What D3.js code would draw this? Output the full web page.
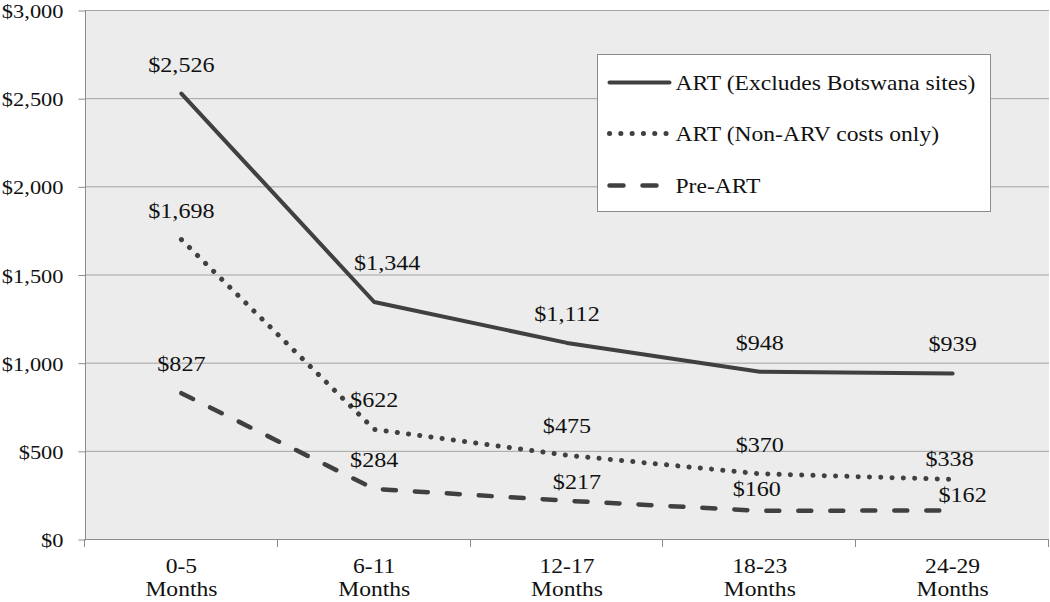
<!DOCTYPE html>
<html lang="en">
  <head>
    <meta charset="utf-8">
    <title>Cost per patient by months on treatment</title>
    <script src="https://cdnjs.cloudflare.com/ajax/libs/d3/7.8.5/d3.min.js"></script>
    <style>
      body { margin: 0; background: #fff; }
      svg text { font-family: "Liberation Serif", "Times New Roman", serif; fill: #111; }
    </style>
  </head>
  <body>
    <svg id="chart" width="1050" height="602"></svg>

    <script type="text/javascript">

    // categories (two-line tick labels)
    const periods = ['0-5', '6-11', '12-17', '18-23', '24-29'];
    const periodUnit = 'Months';

    // series values, $ per patient
    const artExclBotswana = [2526, 1344, 1112, 948, 939];
    const artNonArv = [1698, 622, 475, 370, 338];
    const preArt = [827, 284, 217, 160, 162];

    const seriesNames = ['ART (Excludes Botswana sites)', 'ART (Non-ARV costs only)', 'Pre-ART'];
    const yTicks = [0, 500, 1000, 1500, 2000, 2500, 3000];

    const w = 1050;
    const h = 602;
    const margin = {top: 10, right: 1, bottom: 63, left: 85};
    const ink = '#404040';
    const stretch = 1.15;   // the original text is a bit wider than Times

    const svg = d3.select('#chart');

    const x = d3.scaleBand()
                .domain(periods)
                .range([margin.left, w - margin.right]);

    const y = d3.scaleLinear()
                .domain([0, 3000])
                .range([h - margin.bottom, margin.top]);

    const fmt = d3.format('$,');

    // helper: text that is stretched a little horizontally around its anchor
    function wideText(sel, tx, ty) {
      return sel.attr('transform', 'translate(' + tx + ',' + ty + ') scale(' + stretch + ',1)');
    }

    // plot background
    svg.append('rect')
       .attr('x', margin.left)
       .attr('y', margin.top)
       .attr('width', w - margin.right - margin.left)
       .attr('height', y(0) - margin.top)
       .attr('fill', '#ececec');

    // grid
    svg.append('g')
       .selectAll('line')
       .data(yTicks.slice(1))
       .enter()
       .append('line')
       .attr('x1', margin.left)
       .attr('x2', w - margin.right)
       .attr('y1', d => y(d) + 0.5)
       .attr('y2', d => y(d) + 0.5)
       .attr('stroke', '#a3a3a3')
       .attr('stroke-width', 1);

    // y axis
    const yAxis = d3.axisLeft(y)
                    .tickValues(yTicks)
                    .tickSize(7)
                    .tickFormat(fmt);
    const gy = svg.append('g')
       .attr('id', 'y-axis')
       .attr('transform', 'translate(' + (margin.left + 0.5) + ',0.5)')
       .call(yAxis);
    gy.select('.domain').remove();
    gy.selectAll('.tick line').attr('stroke', '#8c8c8c');
    gy.selectAll('.tick text').remove();
    gy.selectAll('.tick')
      .append('text')
      .attr('text-anchor', 'end')
      .style('font-size', '19.5px')
      .each(function () { wideText(d3.select(this), -22, 7); })
      .text(d => fmt(d));

    svg.append('line')
       .attr('x1', margin.left + 0.5).attr('x2', margin.left + 0.5)
       .attr('y1', margin.top).attr('y2', y(0) + 0.5)
       .attr('stroke', '#8c8c8c');

    // x axis: ticks at band boundaries
    const bounds = periods.map(p => x(p)).concat([x(periods[periods.length - 1]) + x.bandwidth()]);
    svg.append('line')
       .attr('x1', margin.left).attr('x2', w - margin.right)
       .attr('y1', y(0) + 0.5).attr('y2', y(0) + 0.5)
       .attr('stroke', '#8c8c8c');
    svg.append('g')
       .selectAll('line')
       .data(bounds)
       .enter()
       .append('line')
       .attr('x1', d => Math.round(d) - 0.5)
       .attr('x2', d => Math.round(d) - 0.5)
       .attr('y1', y(0))
       .attr('y2', y(0) + 8)
       .attr('stroke', '#8c8c8c');

    const xl = svg.append('g').attr('id', 'x-axis')
       .selectAll('g')
       .data(periods)
       .enter()
       .append('g');
    xl.append('text')
      .attr('text-anchor', 'middle')
      .style('font-size', '20.5px')
      .each(function (d) { wideText(d3.select(this), x(d) + x.bandwidth() / 2, 573); })
      .text(d => d);
    xl.append('text')
      .attr('text-anchor', 'middle')
      .style('font-size', '20.5px')
      .each(function (d) { wideText(d3.select(this), x(d) + x.bandwidth() / 2, 596); })
      .text(periodUnit);

    // series
    const series = [
      {name: seriesNames[0], values: artExclBotswana, dash: null, width: 4},
      {name: seriesNames[1], values: artNonArv, dash: '0.1 11.2', width: 5},
      {name: seriesNames[2], values: preArt, dash: '13 19', width: 4.5}
    ];

    // a few labels are nudged off the lines in the original
    const nudge = {
      '0-1': [13, -10],
      '1-4': [-3, 9],
      '2-3': [-3, 7],
      '2-4': [10, 14],
      '2-2': [10, 10]
    };

    const line = d3.line()
                   .x((d, i) => x(periods[i]) + x.bandwidth() / 2)
                   .y(d => y(d));

    series.forEach(function (s, si) {
      svg.append('path')
         .datum(s.values)
         .attr('d', line)
         .attr('fill', 'none')
         .attr('stroke', ink)
         .attr('stroke-width', s.width)
         .attr('stroke-linecap', 'round')
         .attr('stroke-linejoin', 'round')
         .attr('stroke-dasharray', s.dash);

      svg.append('g')
         .selectAll('text')
         .data(s.values)
         .enter()
         .append('text')
         .attr('text-anchor', 'middle')
         .style('font-size', '21px')
         .each(function (d, i) {
           const n = nudge[si + '-' + i] || [0, 0];
           wideText(d3.select(this), x(periods[i]) + x.bandwidth() / 2 + n[0], y(d) - 22 + n[1]);
         })
         .text(d => fmt(d));
    });

    // legend
    const lg = svg.append('g').attr('transform', 'translate(597.5,54.5)');
    lg.append('rect')
      .attr('width', 393)
      .attr('height', 157)
      .attr('fill', '#fff')
      .attr('stroke', '#8c8c8c');
    const rows = [28, 79, 131];
    series.forEach(function (s, si) {
      lg.append('line')
        .attr('x1', 12).attr('x2', 72)
        .attr('y1', rows[si]).attr('y2', rows[si])
        .attr('stroke', ink)
        .attr('stroke-width', s.width)
        .attr('stroke-linecap', 'round')
        .attr('stroke-dasharray', s.dash === '13 19' ? '14 19' : s.dash);
      lg.append('text')
        .style('font-size', '20.5px')
        .each(function () { wideText(d3.select(this), 78, rows[si] + 7); })
        .text(s.name);
    });

    </script>
  </body>
</html>
